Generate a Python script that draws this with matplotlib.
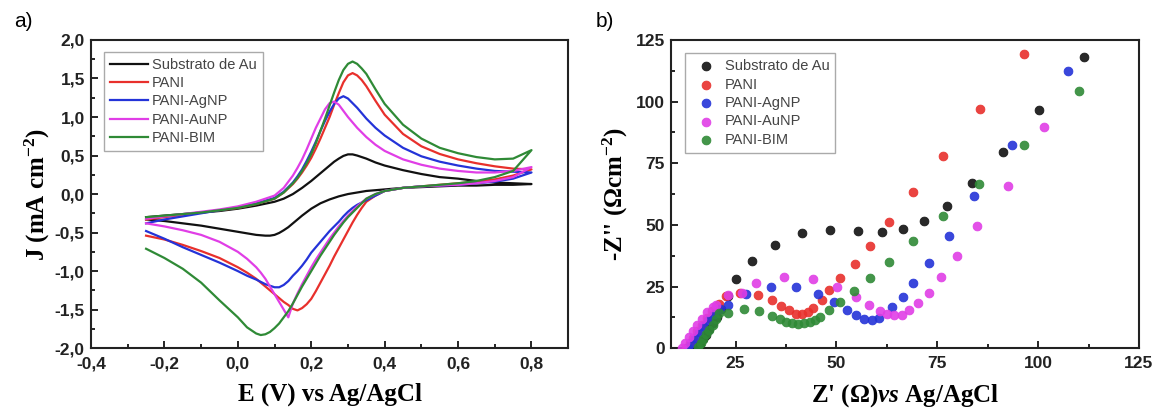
import numpy as np
import matplotlib.pyplot as plt
from matplotlib.ticker import MultipleLocator, FuncFormatter

plt.rcParams['mathtext.fontset'] = 'custom'
plt.rcParams['mathtext.rm'] = 'Liberation Serif:bold'
plt.rcParams['mathtext.it'] = 'Liberation Serif:italic:bold'
plt.rcParams['mathtext.bf'] = 'Liberation Serif:bold'

labels = ['Substrato de Au', 'PANI', 'PANI-AgNP', 'PANI-AuNP', 'PANI-BIM']
colors = ['#111111', '#e8302c', '#2433d8', '#e03ee6', '#2f8a36']

# ---- a) cyclic voltammetry: forward (anodic) and reverse (cathodic) branches
e_fwd = [-0.25, -0.2, -0.15, -0.1, -0.05, 0.0, 0.05, 0.1, 0.125,
         0.15, 0.1625, 0.175, 0.1875, 0.2, 0.2125, 0.225, 0.2375, 0.25, 0.2625, 0.275,
         0.2875, 0.3, 0.3125, 0.325, 0.3375, 0.35, 0.375, 0.4,
         0.45, 0.5, 0.55, 0.6, 0.65, 0.7, 0.75, 0.8]
e_rev = [0.8, 0.75, 0.7, 0.65, 0.6, 0.55, 0.5, 0.45, 0.4, 0.375, 0.35,
         0.3375, 0.325, 0.3125, 0.3, 0.2875, 0.275, 0.2625, 0.25, 0.2375, 0.225, 0.2125,
         0.2, 0.1875, 0.175, 0.1625, 0.15, 0.1375, 0.125, 0.1125, 0.1, 0.0875, 0.075,
         0.0625, 0.05, 0.025, 0.0, -0.05, -0.1, -0.15, -0.2, -0.25]

j_fwd_au = [-0.30, -0.28, -0.26, -0.24, -0.22, -0.19, -0.15, -0.10, -0.06,
            0.0, 0.04, 0.08, 0.125, 0.17, 0.22, 0.27, 0.32, 0.37, 0.42, 0.46,
            0.495, 0.515, 0.515, 0.50, 0.48, 0.46, 0.41, 0.37,
            0.31, 0.26, 0.22, 0.20, 0.17, 0.15, 0.14, 0.13]
j_rev_au = [0.13, 0.12, 0.12, 0.11, 0.11, 0.10, 0.09, 0.08, 0.06, 0.05, 0.04,
            0.03, 0.02, 0.01, 0.0, -0.015, -0.03, -0.05, -0.07, -0.095, -0.12, -0.155,
            -0.19, -0.235, -0.28, -0.33, -0.38, -0.43, -0.47, -0.505, -0.53, -0.54, -0.54,
            -0.535, -0.53, -0.51, -0.49, -0.45, -0.41, -0.38, -0.35, -0.33]

j_fwd_pani = [-0.33, -0.30, -0.27, -0.24, -0.21, -0.18, -0.13, -0.06, 0.02,
              0.13, 0.20, 0.28, 0.37, 0.47, 0.59, 0.72, 0.86, 1.00, 1.16, 1.31,
              1.45, 1.54, 1.57, 1.54, 1.48, 1.40, 1.21, 1.03,
              0.78, 0.62, 0.52, 0.45, 0.40, 0.36, 0.33, 0.32]
j_rev_pani = [0.32, 0.24, 0.19, 0.16, 0.14, 0.12, 0.10, 0.08, 0.04, -0.02, -0.10,
              -0.18, -0.27, -0.37, -0.48, -0.59, -0.70, -0.81, -0.93, -1.04, -1.15, -1.26,
              -1.36, -1.43, -1.48, -1.51, -1.49, -1.44, -1.40, -1.35, -1.30, -1.25, -1.20,
              -1.15, -1.10, -1.02, -0.95, -0.83, -0.74, -0.66, -0.59, -0.54]

j_fwd_ag = [-0.38, -0.33, -0.29, -0.25, -0.21, -0.17, -0.12, -0.05, 0.03,
            0.15, 0.23, 0.32, 0.43, 0.55, 0.68, 0.82, 0.95, 1.07, 1.17, 1.24,
            1.27, 1.24, 1.18, 1.12, 1.05, 0.98, 0.86, 0.76,
            0.60, 0.49, 0.42, 0.37, 0.33, 0.30, 0.29, 0.28]
j_rev_ag = [0.28, 0.20, 0.16, 0.14, 0.12, 0.11, 0.10, 0.08, 0.04, -0.02, -0.08,
            -0.11, -0.14, -0.18, -0.23, -0.29, -0.36, -0.42, -0.48, -0.55, -0.62, -0.69,
            -0.76, -0.85, -0.93, -1.00, -1.06, -1.13, -1.18, -1.21, -1.21, -1.19, -1.17,
            -1.14, -1.11, -1.06, -1.00, -0.89, -0.79, -0.69, -0.58, -0.48]

j_fwd_aunp = [-0.32, -0.29, -0.26, -0.23, -0.20, -0.16, -0.10, -0.02, 0.08,
              0.24, 0.34, 0.45, 0.58, 0.72, 0.86, 0.98, 1.10, 1.18, 1.20, 1.16,
              1.08, 1.00, 0.93, 0.86, 0.80, 0.74, 0.64, 0.56,
              0.45, 0.38, 0.33, 0.30, 0.28, 0.28, 0.30, 0.35]
j_rev_aunp = [0.35, 0.22, 0.17, 0.14, 0.12, 0.11, 0.10, 0.08, 0.04, 0.0, -0.06,
              -0.11, -0.16, -0.22, -0.28, -0.35, -0.42, -0.50, -0.58, -0.67, -0.76, -0.85,
              -0.95, -1.06, -1.17, -1.29, -1.42, -1.60, -1.50, -1.40, -1.30, -1.20, -1.10,
              -1.02, -0.95, -0.84, -0.75, -0.62, -0.53, -0.47, -0.42, -0.38]

j_fwd_bim = [-0.30, -0.28, -0.26, -0.24, -0.21, -0.18, -0.13, -0.06, 0.02,
             0.14, 0.21, 0.30, 0.40, 0.52, 0.66, 0.82, 0.98, 1.15, 1.32, 1.48,
             1.61, 1.69, 1.72, 1.69, 1.63, 1.56, 1.36, 1.17,
             0.90, 0.72, 0.60, 0.53, 0.48, 0.45, 0.46, 0.57]
j_rev_bim = [0.57, 0.30, 0.22, 0.17, 0.14, 0.12, 0.10, 0.08, 0.04, 0.0, -0.06,
             -0.12, -0.18, -0.24, -0.30, -0.37, -0.45, -0.53, -0.62, -0.71, -0.80, -0.90,
             -1.00, -1.10, -1.20, -1.31, -1.42, -1.52, -1.60, -1.68, -1.74, -1.79, -1.82,
             -1.83, -1.81, -1.73, -1.60, -1.38, -1.15, -0.97, -0.83, -0.71]

cv_fwd = [j_fwd_au, j_fwd_pani, j_fwd_ag, j_fwd_aunp, j_fwd_bim]
cv_rev = [j_rev_au, j_rev_pani, j_rev_ag, j_rev_aunp, j_rev_bim]

# ---- b) Nyquist plots
zre_au = [15.5, 16.2, 16.9, 17.6, 18.4, 19.3, 20.3, 21.5, 23, 25, 29, 34.7, 41.5, 48.5, 55.3,
          61.3, 66.4, 71.7, 77.4, 83.6, 91.3, 100.3, 111.3]
zim_au = [0, 1.8, 3.6, 5.5, 7.6, 10, 12.8, 16, 21, 28, 35.4, 42, 46.5, 48, 47.5,
          47.2, 48.3, 51.5, 57.5, 66.8, 79.5, 96.5, 118]

zre_pani = [12.8, 13.6, 14.5, 15.5, 16.6, 17.8, 19.2, 20.8, 22.5, 26, 30.5, 34.1, 36.3, 38.2,
            39.9, 41.5, 42.9, 44.2, 46.3, 48.1, 50.9, 54.5, 58.2, 63.1, 69.1, 76.3, 85.6, 96.4]
zim_pani = [0, 2, 4.3, 6.8, 9.5, 12.2, 15, 18, 21, 22.3, 21.7, 19.7, 17, 15.5,
            14, 13.7, 14.6, 16.3, 19.7, 23.4, 28.3, 34, 41.5, 51.1, 63.4, 78.1, 97.1, 119.5]

zre_ag = [13.2, 14, 14.9, 15.9, 17, 18.2, 19.6, 21.2, 23.1, 27.6, 33.7, 39.9, 45.4, 49.5,
          52.6, 54.8, 56.8, 58.8, 60.5, 63.7, 66.4, 69.1, 73, 77.8, 84.2, 93.6, 107.3]
zim_ag = [0, 2, 4.2, 6.6, 9, 11.5, 13.8, 16, 17.6, 22.1, 24.7, 24.7, 22, 18.7,
          15.3, 13.3, 12, 11.6, 12.3, 16.7, 20.8, 26.5, 34.4, 45.4, 61.6, 82.5, 112.3]

zre_aunp = [11.6, 12.5, 13.4, 14.4, 15.5, 16.7, 18, 19.4, 20.1, 23.2, 26.5, 30.1, 37, 44.2,
            50.2, 54.8, 58, 60.7, 62.5, 64.3, 66.3, 68.1, 70.3, 72.9, 75.9, 80, 84.8, 92.5, 101.4]
zim_aunp = [0, 2.2, 4.5, 7, 9.5, 12, 14.5, 16.5, 17.3, 21.7, 22.5, 26.5, 28.8, 28.1,
            24.9, 20.8, 17.3, 15.2, 14, 13.4, 13.5, 15.3, 18.3, 22.4, 28.8, 37.4, 49.5, 65.7, 89.8]

zre_bim = [15.7, 16.3, 17, 17.7, 18.5, 19.3, 20.2, 21, 23.1, 27.1, 30.8, 34.1, 36.1, 37.6,
           39.1, 40.5, 41.9, 43.4, 44.6, 46, 48.2, 50.8, 54.4, 58.2, 63, 69.1, 76.3, 85.4,
           96.5, 110.1]
zim_bim = [0.5, 2, 3.8, 5.6, 7.5, 9.5, 11.8, 14.2, 14.2, 15.9, 15, 13.2, 11.8, 10.8,
           10.1, 9.7, 10.1, 10.8, 11.5, 12.8, 15.5, 18.9, 23.2, 28.4, 35.1, 43.6, 53.6, 66.5,
           82.5, 104.4]

eis_re = [zre_au, zre_pani, zre_ag, zre_aunp, zre_bim]
eis_im = [zim_au, zim_pani, zim_ag, zim_aunp, zim_bim]

fig = plt.figure(figsize=(11.61, 4.12), dpi=100)
ax1 = fig.add_axes([0.0784, 0.155, 0.411, 0.748])
ax2 = fig.add_axes([0.578, 0.155, 0.403, 0.748])

tick_font = {'family': 'Liberation Sans', 'weight': 'bold', 'size': 12.5}
label_font = {'family': 'Liberation Serif', 'weight': 'bold', 'size': 18}
legend_prop = {'family': 'Liberation Sans', 'size': 10.5}


def style_axes(ax):
    ax.tick_params(which='both', direction='in', top=False, right=False, width=1.2)
    ax.tick_params(axis='x', which='both', pad=6)
    ax.tick_params(axis='y', which='both', pad=4.5)
    ax.tick_params(which='major', length=5)
    ax.tick_params(which='minor', length=3)
    for s in ax.spines.values():
        s.set_linewidth(1.5)
        s.set_color('#222222')
    for lab in ax.get_xticklabels() + ax.get_yticklabels():
        lab.set_fontproperties(tick_font)
        lab.set_color('#222222')


comma = FuncFormatter(lambda v, p: f"{v:.1f}".replace('.', ','))

# panel a
for jf, jr, lab, c in zip(cv_fwd, cv_rev, labels, colors):
    ax1.plot(e_fwd + e_rev, jf + jr, color=c, lw=1.6, label=lab)
ax1.set_xlim(-0.4, 0.9)
ax1.set_ylim(-2.0, 2.0)
ax1.xaxis.set_major_locator(MultipleLocator(0.2))
ax1.xaxis.set_minor_locator(MultipleLocator(0.1))
ax1.yaxis.set_major_locator(MultipleLocator(0.5))
ax1.yaxis.set_minor_locator(MultipleLocator(0.25))
ax1.xaxis.set_major_formatter(comma)
ax1.yaxis.set_major_formatter(comma)
style_axes(ax1)
ax1.set_xlabel('E (V) vs Ag/AgCl', fontdict=label_font, labelpad=8)
ax1.set_ylabel(r'J (mA cm$^{-2}$)', fontdict=label_font, labelpad=2)
leg1 = ax1.legend(loc='upper left', bbox_to_anchor=(0.012, 0.985),
                  handlelength=2.6, handletextpad=0.3, labelspacing=0.3, borderpad=0.4,
                  fancybox=False, edgecolor='#aaaaaa', framealpha=1, prop=legend_prop)
for t in leg1.get_texts():
    t.set_color('#444444')

# panel b
for zr, zi, lab, c in zip(eis_re, eis_im, labels, colors):
    ax2.scatter(zr, zi, s=40, color=c, edgecolors=c, linewidths=0.6, alpha=0.9,
                label=lab, zorder=3)
ax2.set_xlim(9, 125)
ax2.set_ylim(0, 125)
ax2.xaxis.set_major_locator(MultipleLocator(25))
ax2.xaxis.set_minor_locator(MultipleLocator(12.5))
ax2.yaxis.set_major_locator(MultipleLocator(25))
ax2.yaxis.set_minor_locator(MultipleLocator(12.5))
style_axes(ax2)
ax2.set_xlabel(r"Z' ($\Omega$)$\mathit{vs}$ Ag/AgCl", fontdict=label_font, labelpad=8)
ax2.set_ylabel(r"-Z'' ($\Omega$cm$^{-2}$)", fontdict=label_font, labelpad=4)
leg2 = ax2.legend(loc='upper left', bbox_to_anchor=(0.015, 0.98),
                  handletextpad=0.3, labelspacing=0.3, borderpad=0.4,
                  fancybox=False, edgecolor='#aaaaaa', framealpha=1, prop=legend_prop)
for t in leg2.get_texts():
    t.set_color('#444444')

fig.text(0.012, 0.935, 'a)', fontsize=15, family='Liberation Sans')
fig.text(0.513, 0.935, 'b)', fontsize=15, family='Liberation Sans')

fig.savefig('out.png', dpi=100)
